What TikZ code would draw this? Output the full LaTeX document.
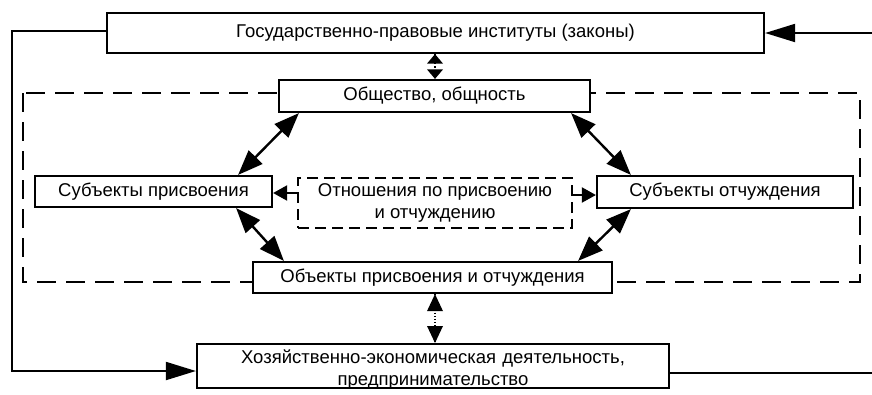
\documentclass[tikz,border=0pt]{standalone}
\usepackage{fontspec}
\setmainfont{Liberation Sans}
\usetikzlibrary{arrows.meta}
\begin{document}
\begin{tikzpicture}[x=1bp,y=-1bp,
  lbl/.style={font=\fontsize{18.5bp}{22bp}\selectfont},
  box/.style={lbl, draw, line width=2.2bp, fill=white, inner sep=0pt, align=center},
  relbox/.style={lbl, draw, line width=2bp, fill=white, inner sep=0pt, align=center, dash pattern=on 11bp off 6bp},
  frame/.style={line width=2bp, dash pattern=on 19bp off 10bp},
  dia/.style={line width=2.4bp, {Triangle[length=25bp,width=19bp]}-{Triangle[length=25bp,width=19bp]}},
  relarr/.style={line width=2bp, -{Triangle[length=14bp,width=15bp]}},
  loop/.style={line width=1.9bp, -{Triangle[length=30bp,width=18bp]}},
  dotarr/.style={line width=1.1bp, dotted},
]
\useasboundingbox (0,0) rectangle (872,394);
% frame
\draw[frame] (23,93) rectangle (860,282);
% boxes
\node[box, minimum width=657bp, minimum height=40bp] (gos) at (435.5,33) {Государственно-правовые институты (законы)};
\node[box, minimum width=311bp, minimum height=32bp] (obsh) at (434.5,96) {Общество, общность};
\node[box, minimum width=237bp, minimum height=31bp] (subp) at (153.5,191.5) {Субъекты присвоения};
\node[relbox, minimum width=274bp, minimum height=50bp] (rel) at (435,203) {Отношения по присвоению\\и отчуждению};
\node[box, minimum width=256bp, minimum height=32bp] (subo) at (725,192) {Субъекты отчуждения};
\node[box, minimum width=359bp, minimum height=31bp] (obj) at (432.5,277.5) {Объекты присвоения и отчуждения};
\node[box, anchor=north, text width=472bp, inner ysep=5bp, text height=14bp, text depth=20bp] (hoz) at (433,343) {Хозяйственно-экономическая деятельность,\\предпринимательство};
% diagonal arrows
\draw[dia] ([xshift=21bp]obsh.south west) -- ([xshift=-35bp]subp.north east);
\draw[dia] ([xshift=-20bp]obsh.south east) -- ([xshift=35bp]subo.north west);
\draw[dia] ([xshift=-37bp]subp.south east) -- ([xshift=32bp]obj.north west);
\draw[dia] ([xshift=35bp]subo.south west) -- ([xshift=-35bp]obj.north east);
% relation arrows
\coordinate (ra) at (0,193);
\coordinate (rb) at (0,195);
\draw[relarr] (rel.west |- ra) -- (subp.east |- ra);
\draw[relarr] (rel.east |- rb) -- (subo.west |- rb);
% dotted vertical arrows
\coordinate (ax) at (435,0);
\draw[dotarr] (gos.south -| ax) -- (obsh.north -| ax);
\fill (gos.south -| ax) -- ++(-8,9.5) -- ++(16,0) -- cycle;
\fill (obsh.north -| ax) -- ++(-8,-9.5) -- ++(16,0) -- cycle;
\draw[dotarr] (obj.south -| ax) -- (hoz.north -| ax);
\fill (obj.south -| ax) -- ++(-8,17) -- ++(16,0) -- cycle;
\fill (hoz.north -| ax) -- ++(-8,-17) -- ++(16,0) -- cycle;
% loops
\coordinate (lt) at (12,31);
\coordinate (lb) at (12,371);
\draw[loop] (gos.west |- lt) -- (lt) -- (lb) -- (hoz.west |- lb);
\coordinate (rt) at (886,33);
\coordinate (rbt) at (886,373);
\draw[loop] (hoz.east |- rbt) -- (rbt) -- (rt) -- (gos.east |- rt);
\end{tikzpicture}
\end{document}
